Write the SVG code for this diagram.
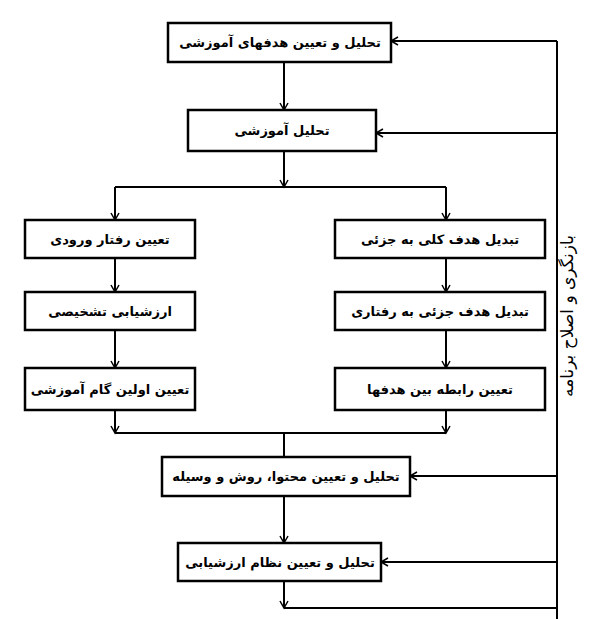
<svg xmlns="http://www.w3.org/2000/svg" width="600" height="619" viewBox="0 0 600 619">
<style>
rect{fill:#fff;stroke:#000;stroke-width:2.5}
text{font-family:"DejaVu Sans","Noto Sans",sans-serif;font-weight:bold;font-size:13px;text-anchor:middle;direction:rtl}
.c{fill:none;stroke:#000;stroke-width:2}
</style>
<defs><marker id="a" markerWidth="10" markerHeight="10" refX="8" refY="5" orient="auto" markerUnits="userSpaceOnUse"><path d="M1,1 L8,5 L1,9" fill="none" stroke="#000" stroke-width="1.5"/></marker></defs>
<g id="connectors" class="c">
<path d="M284,62 V110" marker-end="url(#a)"/>
<path d="M284,151 V187" marker-end="url(#a)"/>
<path d="M115,187 H446"/>
<path d="M115,187 V220" marker-end="url(#a)"/>
<path d="M446,187 V220" marker-end="url(#a)"/>
<path d="M115,258 V292" marker-end="url(#a)"/>
<path d="M115,330 V368" marker-end="url(#a)"/>
<path d="M446,258 V292" marker-end="url(#a)"/>
<path d="M446,330 V368" marker-end="url(#a)"/>
<path d="M115,410 V433" marker-end="url(#a)"/>
<path d="M446,410 V433" marker-end="url(#a)"/>
<path d="M115,433 H446"/>
<path d="M284,433 V457"/>
<path d="M284,496 V543" marker-end="url(#a)"/>
<path d="M284,581 V608" marker-end="url(#a)"/>
<path d="M284,608 H557"/>
<path d="M557,619 V41"/>
<path d="M557,41 H391" marker-end="url(#a)"/>
<path d="M557,133 H376" marker-end="url(#a)"/>
<path d="M557,476 H410" marker-end="url(#a)"/>
<path d="M557,562 H381" marker-end="url(#a)"/>
</g>
<g id="n1"><rect x="168" y="23" width="223" height="39"/><text x="280" y="47">تحلیل و تعیین هدفهای آموزشی</text></g>
<g id="n2"><rect x="188" y="110" width="188" height="41"/><text x="282" y="135">تحلیل آموزشی</text></g>
<g id="n3"><rect x="25" y="220" width="170" height="38"/><text x="110" y="244">تعیین رفتار ورودی</text></g>
<g id="n4"><rect x="25" y="292" width="170" height="38"/><text x="110" y="316">ارزشیابی تشخیصی</text></g>
<g id="n5"><rect x="25" y="368" width="170" height="42"/><text x="110" y="394">تعیین اولین گام آموزشی</text></g>
<g id="n6"><rect x="335" y="220" width="210" height="38"/><text x="440" y="244">تبدیل هدف کلی به جزئی</text></g>
<g id="n7"><rect x="335" y="292" width="210" height="38"/><text x="440" y="316">تبدیل هدف جزئی به رفتاری</text></g>
<g id="n8"><rect x="335" y="368" width="210" height="42"/><text x="440" y="394">تعیین رابطه بین هدفها</text></g>
<g id="n9"><rect x="162" y="457" width="248" height="39"/><text x="286" y="481">تحلیل و تعیین محتوا، روش و وسیله</text></g>
<g id="n10"><rect x="178" y="543" width="203" height="38"/><text x="280" y="567">تحلیل و تعیین نظام ارزشیابی</text></g>
<g id="label"><text transform="translate(573,316) rotate(-90)" style="font-size:17px;font-weight:normal">بازنگری و اصلاح برنامه</text></g>
</svg>
